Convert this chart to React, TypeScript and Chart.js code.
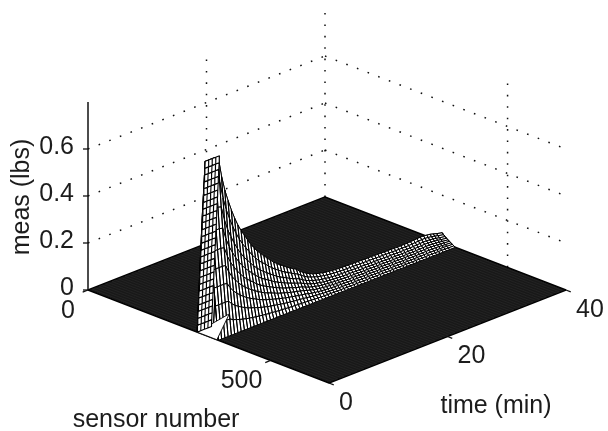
import React, { useEffect, useRef } from "react";
import { Chart, registerables } from "chart.js";

Chart.register(...registerables);

// ---- data ----
const SENSOR_MAX = 660;
const TIME_MAX = 40;
const zGridValues = [0.2, 0.4, 0.6];
const zTicks = [0, 0.2, 0.4, 0.6];
const zTickLabels = ["0", "0.2", "0.4", "0.6"];
const sensorTicks = [0, 500];
const sensorTickLabels = ["0", "500"];
const timeTicks = [0, 20, 40];
const timeTickLabels = ["0", "20", "40"];
const zAxisTop = 0.8;

const times = [
  0, 0.55, 1.1, 1.65, 2.2, 2.75, 3.3, 3.85, 4.4, 4.95, 5.5, 6.05, 6.6, 7.15, 7.7, 8.25, 8.8, 9.35, 9.9, 10.45,
  11, 11.55, 12.1, 12.65, 13.2, 13.75, 14.3, 14.85, 15.4, 15.95, 16.5, 17.05, 17.6, 18.15, 18.7, 19.25, 19.8,
  20.35, 20.9, 21.45, 22, 22.55, 23.1, 23.65, 24.2, 24.75, 25.3, 25.85, 26.4, 26.95, 27.5, 28.05, 28.6, 29.15,
  29.7, 30.25, 30.8, 31.35, 31.9, 32.45, 33, 33.55, 34.1, 34.65, 35.2, 35.75, 36.3, 36.85, 37.4, 37.95, 38.5,
  39.05, 40,
];
const crestMeas = [
  0.74, 0.74, 0.74, 0.74, 0.735, 0.65, 0.585, 0.535, 0.49, 0.45, 0.415, 0.385, 0.36, 0.335, 0.31, 0.29, 0.27,
  0.255, 0.24, 0.225, 0.21, 0.197, 0.185, 0.174, 0.164, 0.154, 0.145, 0.136, 0.128, 0.115, 0.104, 0.095, 0.088,
  0.082, 0.077, 0.073, 0.07, 0.067, 0.065, 0.063, 0.062, 0.061, 0.06, 0.06, 0.059, 0.059, 0.058, 0.058, 0.058,
  0.057, 0.057, 0.057, 0.056, 0.056, 0.056, 0.055, 0.055, 0.055, 0.054, 0.054, 0.054, 0.054, 0.054, 0.055, 0.056,
  0.057, 0.058, 0.058, 0.056, 0.054, 0.05, 0.046, 0.04,
];
const ridgeSensors = [299, 306, 313, 321, 325, 329, 333, 337, 341, 345, 349, 353, 357];
const ridgeShare = [0, 0.35, 0.68, 1, 0.86, 0.72, 0.6, 0.49, 0.39, 0.29, 0.19, 0.09, 0];

const towerTimes = [0, 0.6, 1.2, 1.8, 2.4];
const towerSensors = [
  299, 299.9, 300.8, 301.7, 302.6, 303.4, 304.3, 305.2, 306.1, 307, 307.8, 308.7, 309.6, 310.5, 311.4, 312.2,
  313.1, 314, 314.9, 315.8, 316.6, 317.5, 318.4, 319.3, 320.2, 321,
];
const towerMeas = [
  0, 0.03, 0.06, 0.09, 0.118, 0.148, 0.178, 0.207, 0.237, 0.266, 0.296, 0.326, 0.355, 0.385, 0.414, 0.444, 0.474,
  0.503, 0.533, 0.562, 0.592, 0.622, 0.651, 0.681, 0.71, 0.74,
];
const gapSensors = [299, 353, 345];
const gapTimes = [0, 0, 2.6];
const gapMeas = [0, 0, 0.08];
const floorSensorStep = 3;
const floorTimeStep = 0.55;

// ---- view ----
const project = (s: number, t: number, z: number) => {
  const a = s / SENSOR_MAX;
  const b = t / TIME_MAX;
  return { x: 88 + 241 * a + 237 * b, y: 290 + 93 * a - 93 * b - 235 * z };
};

type P = { x: number; y: number };
const paint: any[] = [];
const poly = (data: P[], bg: string | null, color: string, width: number, dash?: number[]) => {
  paint.push({
    data,
    showLine: true,
    pointRadius: 0,
    borderColor: color,
    borderWidth: width,
    borderDash: dash ?? [],
    borderJoinStyle: "bevel",
    meshFill: bg,
    fill: false,
    tension: 0,
  });
};
const DOTS = [1.6, 9.8];
const DOT_COLOR = "#111";
const DOT_W = 1.5;

// dotted grid on the two back walls
zGridValues.forEach((z) => {
  poly([project(0, 0, z), project(0, TIME_MAX, z)], null, DOT_COLOR, DOT_W, DOTS);
  poly([project(0, TIME_MAX, z), project(SENSOR_MAX, TIME_MAX, z)], null, DOT_COLOR, DOT_W, DOTS);
});
poly([project(0, 20, 0), project(0, 20, zAxisTop)], null, DOT_COLOR, DOT_W, DOTS);
poly([project(0, TIME_MAX, 0), project(0, TIME_MAX, zAxisTop)], null, DOT_COLOR, DOT_W, DOTS);
poly([project(500, TIME_MAX, 0), project(500, TIME_MAX, zAxisTop)], null, DOT_COLOR, DOT_W, DOTS);

// floor: a dense mesh that reads as dark stipple
poly(
  [project(0, 0, 0), project(SENSOR_MAX, 0, 0), project(SENSOR_MAX, TIME_MAX, 0), project(0, TIME_MAX, 0), project(0, 0, 0)],
  "#0c0c0c",
  "#000",
  1.4
);
const GRAIN = "rgba(255,255,255,0.085)";
const sensorRun: P[] = [];
for (let s = floorSensorStep; s < SENSOR_MAX; s += floorSensorStep) {
  const up = Math.round(s / floorSensorStep) % 2 === 0;
  sensorRun.push(project(s, up ? 0.2 : TIME_MAX - 0.2, 0), project(s, up ? TIME_MAX - 0.2 : 0.2, 0));
}
poly(sensorRun, null, GRAIN, 0.55);
const timeRun: P[] = [];
for (let t = floorTimeStep; t < TIME_MAX; t += floorTimeStep) {
  const up = Math.round(t / floorTimeStep) % 2 === 0;
  timeRun.push(project(up ? 3 : SENSOR_MAX - 3, t, 0), project(up ? SENSOR_MAX - 3 : 3, t, 0));
}
poly(timeRun, null, GRAIN, 0.55);

// vertical axis and ticks
poly([project(0, 0, 0), project(0, 0, zAxisTop)], null, "#111", 1.5);
zTicks.forEach((z) => {
  const p = project(0, 0, z);
  poly([p, { x: p.x - 5, y: p.y }], null, "#111", 1.3);
});
timeTicks.forEach((t) => {
  poly([project(SENSOR_MAX, t, 0), project(SENSOR_MAX + 13, t, 0)], null, "#111", 1.3);
});
sensorTicks.forEach((s) => {
  poly([project(s, 0, 0), project(s, -0.9, 0)], null, "#111", 1.3);
});

// strip of mesh cells between two sensor rows
const strip = (far: P[], near: P[], width: number) => {
  const out: P[] = [];
  near.forEach((p, j) => {
    out.push(p, far[j], p);
  });
  for (let j = far.length - 1; j >= 0; j--) out.push(far[j]);
  out.push(near[0]);
  poly(out, "#fff", "#000", width);
};

// long ridge, far rows first
const rowPts = ridgeSensors.map((s, i) => times.map((t, j) => project(s, t, crestMeas[j] * ridgeShare[i])));
for (let i = 0; i + 1 < rowPts.length; i++) strip(rowPts[i], rowPts[i + 1], 1);

// white gap at the foot of the peak
poly(
  [...gapSensors.map((s, i) => project(s, gapTimes[i], gapMeas[i])), project(gapSensors[0], gapTimes[0], gapMeas[0])],
  "#fff",
  "#000",
  0.9
);

// rising face of the peak
const towerPts = towerSensors.map((s, i) => towerTimes.map((t) => project(s, t, towerMeas[i])));
for (let i = 0; i + 1 < towerPts.length; i++) strip(towerPts[i], towerPts[i + 1], 1.1);

const FONT = '25px "Liberation Sans"';
const textPlugin = {
  id: "labels3d",
  beforeDatasetDraw(chart: any, args: any) {
    const ds = chart.data.datasets[args.index];
    if (!ds.meshFill) return;
    const pts = args.meta.data;
    const ctx = chart.ctx;
    ctx.save();
    ctx.beginPath();
    pts.forEach((p: any, i: number) => (i ? ctx.lineTo(p.x, p.y) : ctx.moveTo(p.x, p.y)));
    ctx.closePath();
    ctx.fillStyle = ds.meshFill;
    ctx.fill();
    ctx.restore();
  },
  afterDraw(chart: any) {
    const ctx = chart.ctx;
    const xs = chart.scales.x;
    const ys = chart.scales.y;
    const at = (p: P) => ({ x: xs.getPixelForValue(p.x), y: ys.getPixelForValue(p.y) });
    ctx.save();
    ctx.font = FONT;
    ctx.fillStyle = "#1c1c1c";
    ctx.textBaseline = "middle";
    ctx.textAlign = "right";
    zTicks.forEach((z, i) => {
      const p = at(project(0, 0, z));
      ctx.fillText(zTickLabels[i], p.x - 14, p.y - 2);
    });
    ctx.textAlign = "center";
    sensorTicks.forEach((s, i) => {
      const p = at(project(s, 0, 0));
      ctx.fillText(sensorTickLabels[i], p.x - (i ? 29 : 20), p.y + 21);
    });
    timeTicks.forEach((t, i) => {
      const p = at(project(SENSOR_MAX, t, 0));
      ctx.fillText(timeTickLabels[i], p.x + 17 + (i ? 7 : 0), p.y + 20);
    });
    ctx.fillText("time (min)", 496, 406);
    ctx.fillText("sensor number", 156, 420);
    ctx.translate(22, 197);
    ctx.rotate(-Math.PI / 2);
    ctx.fillText("meas (lbs)", 0, 0);
    ctx.restore();
  },
};

export default function App() {
  const ref = useRef<HTMLCanvasElement>(null);
  useEffect(() => {
    document.body.style.margin = "0";
    document.body.style.background = "#fff";
    const chart = new Chart(ref.current!, {
      type: "scatter",
      data: { datasets: [...paint].reverse() },
      options: {
        animation: false,
        responsive: false,
        devicePixelRatio: 1,
        layout: { padding: 0 },
        plugins: { legend: { display: false }, tooltip: { enabled: false }, title: { display: false } },
        scales: {
          x: { type: "linear", display: false, min: 0, max: 608 },
          y: { type: "linear", display: false, min: 0, max: 431, reverse: true },
        },
      },
      plugins: [textPlugin],
    } as any);
    return () => chart.destroy();
  }, []);
  return <canvas ref={ref} width={608} height={431} style={{ display: "block" }} />;
}
